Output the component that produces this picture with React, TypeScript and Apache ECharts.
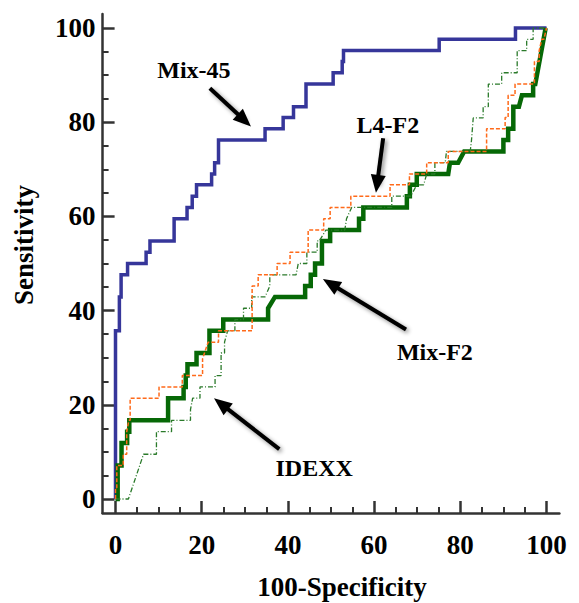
import React, { useEffect, useRef } from "react";
import * as echarts from "echarts";

// ROC curves: [100-Specificity, Sensitivity] corner points
const mix45: number[][] = [
  [0, 0], [0, 35.7], [0.9, 35.7], [0.9, 42.9], [1.3, 42.9], [1.3, 47.6], [2.8, 47.6], [2.8, 50],
  [7.1, 50], [7.1, 52.4], [8, 52.4], [8, 54.8], [13.6, 54.8], [13.6, 59.5], [16.6, 59.5], [16.6, 61.9],
  [17.8, 61.9], [17.8, 64.3], [18.8, 64.3], [18.8, 66.7], [22.3, 66.7], [22.3, 69], [23, 69], [23, 71.4],
  [23.9, 71.4], [23.9, 76.2], [34.7, 76.2], [34.7, 78.6], [38.9, 78.6], [38.9, 81], [41.3, 81], [41.3, 83.3],
  [44.2, 83.3], [44.2, 88.1], [50.5, 88.1], [50.5, 90.5], [52.6, 90.5], [52.6, 92.9], [52.9, 92.9], [52.9, 95.2],
  [75.1, 95.2], [75.1, 97.6], [92.8, 97.6], [92.8, 100], [100, 100],
];

const mixF2: number[][] = [
  [0, 0], [0.5, 0], [0.5, 7.1], [1.4, 7.1], [1.4, 11.9], [2.7, 11.9], [2.7, 14.3], [3.2, 14.3], [3.2, 16.7],
  [12.2, 16.7], [12.2, 21.4], [15.8, 21.4], [15.8, 23.8], [16.3, 23.8], [16.3, 26.2], [16.7, 26.2], [16.7, 28.6],
  [18.8, 28.6], [18.8, 31], [21.8, 31], [21.8, 35.7], [25, 35.7], [25, 38.1], [35.4, 38.1], [35.4, 40.5],
  [37, 42.9], [44, 42.9], [44, 45.2], [45.3, 45.2], [45.3, 47.6], [46.3, 47.6], [46.3, 50], [47.9, 50],
  [47.9, 54.8], [49.8, 54.8], [49.8, 57.1], [56.5, 57.1], [56.5, 59.5], [57.5, 59.5], [57.5, 61.9], [67.6, 61.9],
  [67.6, 64.3], [68.3, 64.3], [68.3, 66.7], [69.9, 66.7], [69.9, 69], [77.2, 69], [77.6, 71.4], [79.5, 71.4],
  [80.9, 73.8], [90, 73.8], [90, 76.2], [91.1, 76.2], [91.1, 78.6], [92.3, 78.6], [92.3, 83.3], [93.6, 83.3],
  [94.3, 85.7], [96.9, 85.7], [96.9, 88.1], [97.4, 88.1], [99.8, 100],
];

const l4F2: number[][] = [
  [0, 0], [0, 2.4], [0.3, 2.4], [0.3, 7.1], [1.8, 7.1], [1.8, 9.5], [2.6, 9.5], [2.6, 14.3], [3.1, 16.7],
  [3.4, 16.7], [3.4, 21.4], [10.1, 21.4], [10.1, 23.8], [15.5, 23.8], [15.5, 26.2], [20.2, 26.2], [20.2, 29.8],
  [21.5, 33.3], [23.9, 33.3], [23.9, 35.7], [31.7, 35.7], [31.7, 45.2], [33.1, 45.2], [33.1, 47.6], [37.5, 47.6],
  [37.5, 50], [40.5, 50], [40.5, 52.4], [44.7, 52.4], [44.7, 57.1], [48.3, 57.1], [48.3, 59.5], [49.8, 59.5],
  [49.8, 61.9], [54.6, 61.9], [54.6, 64.3], [63.7, 64.3], [63.7, 66.7], [68.2, 66.7], [68.2, 69], [72.2, 69],
  [72.2, 71.4], [77.2, 71.4], [77.2, 73.8], [86.1, 73.8], [86.1, 78.6], [90.4, 78.6], [90.4, 81], [91.1, 81],
  [91.1, 85.7], [92.7, 85.7], [92.7, 88.1], [97.2, 88.1], [97.2, 92.9], [98.3, 92.9], [98.3, 95.2], [98.9, 97.6],
  [99.4, 97.6], [100, 100],
];

const idexx: number[][] = [
  [0, 0], [3, 0], [6.5, 9.5], [9.5, 9.5], [9.5, 14.3], [13, 14.3], [13, 16.7], [17.4, 16.7], [17.4, 19],
  [17.9, 21.4], [19.6, 21.4], [19.6, 23.8], [23.1, 23.8], [23.1, 26.2], [24.5, 26.2], [24.5, 31], [25.3, 31],
  [25.3, 33.3], [26, 35.7], [27.7, 35.7], [27.7, 38.1], [29.7, 38.1], [29.7, 40.5], [31.6, 40.5], [31.6, 42.9],
  [34.7, 42.9], [35.8, 45.2], [35.8, 47.6], [41.9, 47.6], [42.4, 50], [44.4, 50], [44.4, 52.4], [46.8, 52.4],
  [46.8, 54.8], [47.3, 54.8], [48.8, 57.1], [53.2, 57.1], [53.6, 59.5], [54.8, 61.9], [64.1, 61.9], [64.1, 64.3],
  [68.5, 64.3], [69.9, 66.7], [71.5, 66.7], [72.2, 69], [74.1, 69], [74.1, 71.4], [76.5, 71.4], [76.8, 73.8],
  [82.3, 73.8], [82.6, 76.2], [83, 80.9], [85.3, 80.9], [85.3, 83.3], [86.5, 83.3], [86.5, 88.1], [89.6, 88.1],
  [89.6, 90.5], [93.2, 90.5], [93.2, 95.2], [95.4, 95.2], [95.4, 97.6], [96.9, 97.6], [96.9, 100], [100, 100],
];

// Annotations (data coordinates)
const annotationNames = ["Mix-45", "L4-F2", "Mix-F2", "IDEXX"];
const annotationPos: number[][] = [[18.2, 91.1], [63.2, 79.4], [74.1, 31.3], [46.1, 6.6]];
const arrowTails: number[][] = [[21.9, 87.2], [62.1, 76.6], [67.4, 36.0], [38.0, 10.6]];
const arrowHeads: number[][] = [[29.9, 80.4], [60.7, 66.9], [49.9, 45.7], [24.5, 20.2]];

const xTitle = "100-Specificity";
const yTitle = "Sensitivity";

const FONT = '"Liberation Serif", "Times New Roman", Times, serif';
const AXIS = "#333333";

export default function App() {
  const ref = useRef<HTMLDivElement>(null);

  useEffect(() => {
    if (!ref.current) return;
    const chart = echarts.init(ref.current, undefined, { renderer: "svg" });

    const tickLabel = { fontSize: 27, fontWeight: "bold", fontFamily: FONT, color: "#000" };

    const option: any = {
      animation: false,
      grid: [
        { left: 115.5, right: 32.5, top: 28, bottom: 104 },
        { left: 102.6, right: 19.6, top: 13.9, bottom: 89.9 },
      ],
      xAxis: [
        {
          type: "value", gridIndex: 0, min: 0, max: 100, interval: 20, offset: 14,
          axisLine: { show: false, onZero: false },
          axisTick: { show: true, inside: true, length: 12, lineStyle: { color: AXIS, width: 2.5 } },
          minorTick: { show: true, splitNumber: 4, length: 6, lineStyle: { color: AXIS, width: 2 } },
          splitLine: { show: false }, minorSplitLine: { show: false },
          axisLabel: { ...tickLabel, margin: 18 },
        },
        {
          type: "value", gridIndex: 1, min: -3, max: 103,
          axisLine: { show: true, onZero: false, lineStyle: { color: AXIS, width: 2.5 } },
          axisTick: { show: false }, axisLabel: { show: false }, splitLine: { show: false },
        },
      ],
      yAxis: [
        {
          type: "value", gridIndex: 0, min: 0, max: 100, interval: 20, offset: 12.9,
          axisLine: { show: false, onZero: false },
          axisTick: { show: true, inside: true, length: 12, lineStyle: { color: AXIS, width: 2.5 } },
          minorTick: { show: true, splitNumber: 4, length: 6, lineStyle: { color: AXIS, width: 2 } },
          splitLine: { show: false }, minorSplitLine: { show: false },
          axisLabel: { ...tickLabel, margin: 7 },
        },
        {
          type: "value", gridIndex: 1, min: -3, max: 103,
          axisLine: { show: true, onZero: false, lineStyle: { color: AXIS, width: 2.5 } },
          axisTick: { show: false }, axisLabel: { show: false }, splitLine: { show: false },
        },
      ],
      series: [
        {
          name: "Mix-45", type: "line", data: mix45, showSymbol: false, symbol: "none", clip: false,
          lineStyle: { color: "#36369a", width: 3.5, join: "miter", cap: "butt" }, z: 2,
          emphasis: { disabled: true },
        },
        {
          name: "Mix-F2", type: "line", data: mixF2, showSymbol: false, symbol: "none", clip: false,
          lineStyle: { color: "#066806", width: 4.5, join: "miter", cap: "butt" }, z: 3,
          emphasis: { disabled: true },
        },
        {
          name: "IDEXX", type: "line", data: idexx, showSymbol: false, symbol: "none", clip: false,
          lineStyle: { color: "#2a7a2a", width: 1.3, type: [5, 2, 1, 2] }, z: 4,
          emphasis: { disabled: true },
        },
        {
          name: "L4-F2", type: "line", data: l4F2, showSymbol: false, symbol: "none", clip: false,
          lineStyle: { color: "#ff6a1a", width: 1.5, type: [4, 2] }, z: 5,
          emphasis: { disabled: true },
        },
        {
          name: "annotations", type: "scatter", symbolSize: 1, z: 6, silent: true,
          itemStyle: { color: "rgba(0,0,0,0)" },
          data: annotationNames.map((n, i) => ({ name: n, value: annotationPos[i] })),
          label: {
            show: true, position: "inside", formatter: "{b}",
            fontSize: 24, fontWeight: "bold", fontFamily: FONT, color: "#000",
            textBorderWidth: 0, textBorderColor: "transparent", opacity: 1,
          },
          emphasis: { disabled: true },
          markLine: {
            silent: true, animation: false,
            symbol: ["none", "triangle"], symbolSize: [15, 18],
            label: { show: false },
            emphasis: { disabled: true },
            lineStyle: {
              color: "#000", width: 4, type: "solid",
              shadowBlur: 4, shadowColor: "rgba(0,0,0,0.45)", shadowOffsetX: 2, shadowOffsetY: 2,
            },
            data: arrowTails.map((t, i) => [{ coord: t }, { coord: arrowHeads[i] }]),
          },
        },
      ],
      graphic: [
        {
          type: "text", x: 342, y: 587,
          style: {
            text: xTitle, fontSize: 27, fontWeight: "bold", fontFamily: FONT, fill: "#000",
            align: "center", verticalAlign: "middle",
          },
        },
        {
          type: "text", x: 24, y: 245, rotation: Math.PI / 2,
          style: {
            text: yTitle, fontSize: 27, fontWeight: "bold", fontFamily: FONT, fill: "#000",
            align: "center", verticalAlign: "middle",
          },
        },
      ],
    };

    chart.setOption(option);
    return () => chart.dispose();
  }, []);

  return (
    <div
      ref={ref}
      style={{ position: "fixed", left: 0, top: 0, width: 579, height: 603, background: "#fff" }}
    />
  );
}
